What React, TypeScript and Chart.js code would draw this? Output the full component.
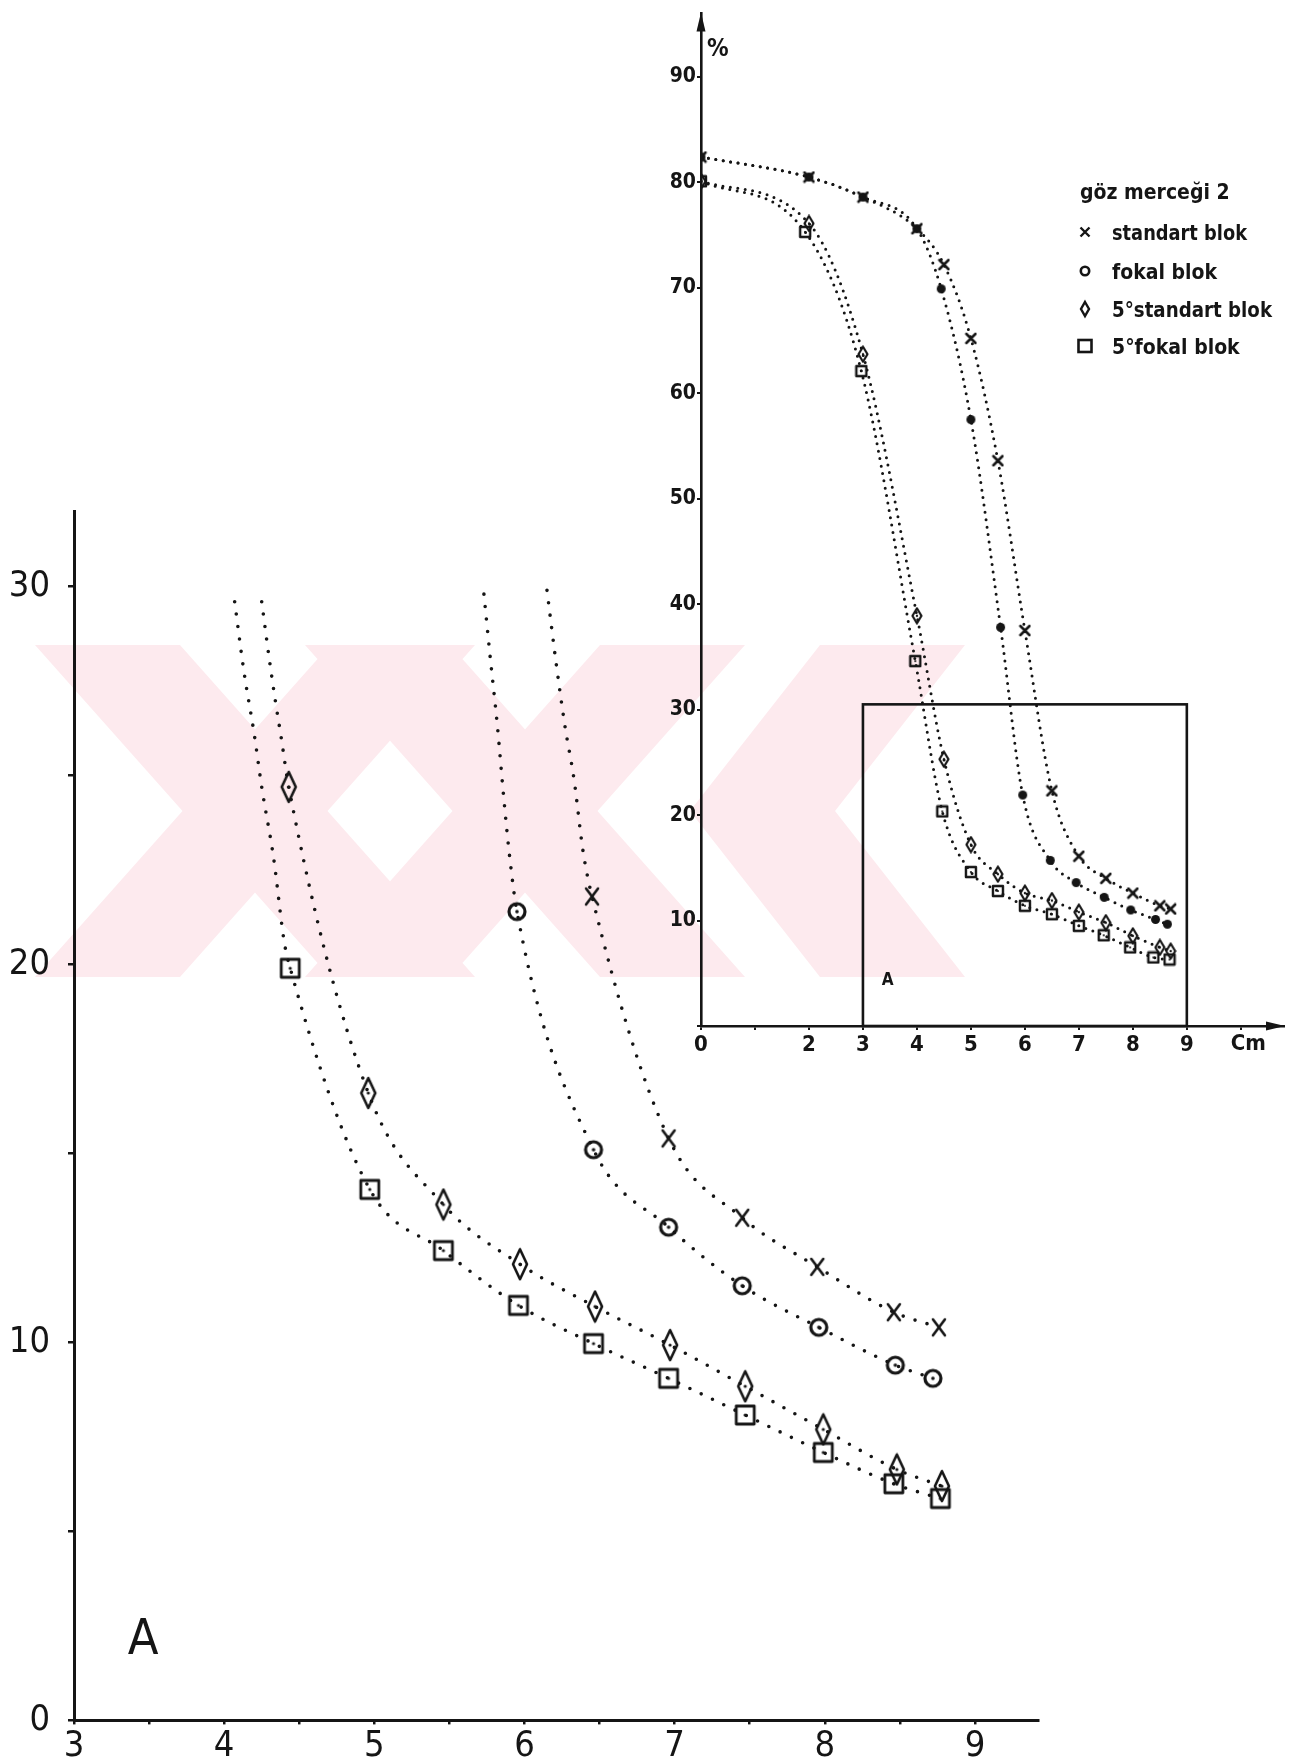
import React, { useEffect, useRef } from "react";
import { Chart, registerables } from "chart.js";

Chart.register(...registerables);

const INK = "#151515";
const FONT = "'DejaVu Sans Condensed', 'Liberation Sans Narrow', 'DejaVu Sans', sans-serif";
const WATERMARK_COLOR = "#fdeaee";

// ---------- main chart (detail "A") ----------
const MAIN_X_LABELS = [3, 4, 5, 6, 7, 8, 9];
const MAIN_Y_LABELS = [0, 10, 20, 30];
const MAIN_TAG = "A";
const MAIN_TAG_X = 3.46;
const MAIN_TAG_Y = 2.1;

// 1 = measured point with marker, 0 = point on the drawn curve only
const MAIN_STD_X = [6.15, 6.21, 6.27, 6.33, 6.39, 6.45, 6.96, 7.45, 7.95, 8.46, 8.76];
const MAIN_STD_Y = [29.9, 28.0, 26.3, 24.9, 23.0, 21.8, 15.4, 13.3, 12.0, 10.8, 10.4];
const MAIN_STD_MARK = [0, 0, 0, 0, 0, 1, 1, 1, 1, 1, 1];

const MAIN_FOK_X = [5.73, 5.77, 5.82, 5.86, 5.9, 5.95, 6.46, 6.96, 7.45, 7.96, 8.47, 8.72];
const MAIN_FOK_Y = [29.8, 28.2, 26.3, 24.5, 22.9, 21.4, 15.1, 13.05, 11.5, 10.4, 9.4, 9.05];
const MAIN_FOK_MARK = [0, 0, 0, 0, 0, 1, 1, 1, 1, 1, 1, 1];

const MAIN_S5_X = [4.25, 4.3, 4.34, 4.38, 4.43, 4.96, 5.46, 5.97, 6.47, 6.97, 7.47, 7.99, 8.48, 8.78];
const MAIN_S5_Y = [29.6, 28.1, 27.0, 26.0, 24.7, 16.6, 13.65, 12.07, 10.95, 9.93, 8.84, 7.7, 6.64, 6.2];
const MAIN_S5_MARK = [0, 0, 0, 0, 1, 1, 1, 1, 1, 1, 1, 1, 1, 1];

const MAIN_F5_X = [4.07, 4.13, 4.2, 4.25, 4.33, 4.4, 4.44, 4.97, 5.46, 5.96, 6.46, 6.96, 7.47, 7.99, 8.46, 8.77];
const MAIN_F5_Y = [29.6, 27.8, 26.1, 24.7, 22.8, 20.6, 19.9, 14.05, 12.43, 10.98, 9.97, 9.05, 8.08, 7.09, 6.26, 5.87];
const MAIN_F5_MARK = [0, 0, 0, 0, 0, 0, 1, 1, 1, 1, 1, 1, 1, 1, 1, 1];

// ---------- inset chart ----------
const INSET_X_LABELS = [0, 2, 3, 4, 5, 6, 7, 8, 9];
const INSET_Y_LABELS = [10, 20, 30, 40, 50, 60, 70, 80, 90];
const INSET_UNIT_Y = "%";
const INSET_UNIT_X = "Cm";
const INSET_BOX = { x0: 3, x1: 9, y0: 0, y1: 30.5 };
const INSET_TAG = "A";
const INSET_TAG_X = 3.46;
const INSET_TAG_Y = 4.3;

const INSET_STD_X = [0, 2, 3, 4, 4.5, 5, 5.5, 6, 6.5, 7, 7.5, 8, 8.5, 8.7];
const INSET_STD_Y = [82.4, 80.5, 78.6, 75.6, 72.2, 65.2, 53.6, 37.5, 22.3, 16.1, 14.0, 12.6, 11.4, 11.1];
const INSET_FOK_X = [0, 2, 3, 4, 4.45, 5, 5.55, 5.96, 6.47, 6.95, 7.47, 7.96, 8.42, 8.64];
const INSET_FOK_Y = [82.4, 80.5, 78.6, 75.6, 69.9, 57.5, 37.8, 21.9, 15.7, 13.6, 12.2, 11.0, 10.1, 9.65];
const INSET_S5_X = [0, 2, 3, 4, 4.5, 5, 5.5, 6, 6.5, 7, 7.5, 8, 8.5, 8.7];
const INSET_S5_Y = [80.1, 76.1, 63.7, 38.9, 25.3, 17.2, 14.4, 12.6, 11.9, 10.8, 9.8, 8.55, 7.45, 7.1];
const INSET_F5_X = [0, 1.93, 2.97, 3.97, 4.47, 5, 5.5, 6, 6.5, 7, 7.46, 7.95, 8.38, 8.68];
const INSET_F5_Y = [80.1, 75.3, 62.1, 34.6, 20.35, 14.6, 12.8, 11.4, 10.6, 9.5, 8.6, 7.45, 6.5, 6.3];

const LEGEND_TITLE = "göz merceği 2";
const SERIES_LABELS = ["standart blok", "fokal blok", "5°standart blok", "5°fokal blok"];

// watermark (thesis-centre logo) polygons, page pixels
const WATERMARK = [
  [[35, 645], [180, 645], [475, 977], [330, 977]],
  [[330, 645], [475, 645], [180, 977], [35, 977]],
  [[305, 645], [450, 645], [745, 977], [600, 977]],
  [[600, 645], [745, 645], [450, 977], [305, 977]],
  [[820, 645], [965, 645], [835, 811], [690, 811]],
  [[690, 811], [835, 811], [965, 977], [820, 977]],
];

function makeMarker(w: number, h: number, draw: (ctx: CanvasRenderingContext2D) => void) {
  const c = document.createElement("canvas");
  c.width = w;
  c.height = h;
  const ctx = c.getContext("2d")!;
  ctx.strokeStyle = INK;
  ctx.fillStyle = INK;
  ctx.lineCap = "round";
  ctx.lineJoin = "round";
  draw(ctx);
  return c;
}

function dot(ctx: CanvasRenderingContext2D, x: number, y: number, r: number) {
  ctx.beginPath();
  ctx.arc(x, y, r, 0, Math.PI * 2);
  ctx.fill();
}

function buildMarkers() {
  const mainX = makeMarker(20, 24, (c) => {
    c.lineWidth = 2.6;
    c.beginPath();
    c.moveTo(4, 4); c.lineTo(16, 20);
    c.moveTo(16, 4); c.lineTo(4, 20);
    c.stroke();
  });
  const mainCircle = makeMarker(24, 24, (c) => {
    c.lineWidth = 3.2;
    c.beginPath(); c.arc(12, 12, 8, 0, Math.PI * 2); c.stroke();
    dot(c, 12, 12, 1.8);
  });
  const mainDiamond = makeMarker(20, 34, (c) => {
    c.lineWidth = 2.6;
    c.beginPath();
    c.moveTo(10, 2); c.lineTo(17, 17); c.lineTo(10, 32); c.lineTo(3, 17); c.closePath();
    c.stroke();
    dot(c, 10, 17, 1.6);
  });
  const mainSquare = makeMarker(24, 24, (c) => {
    c.lineWidth = 2.8;
    c.strokeRect(3, 3, 18, 18);
    dot(c, 12, 12, 1.6);
  });
  const insX = makeMarker(13, 13, (c) => {
    c.lineWidth = 2.6;
    c.beginPath();
    c.moveTo(2, 2); c.lineTo(11, 11);
    c.moveTo(11, 2); c.lineTo(2, 11);
    c.stroke();
  });
  const insCircle = makeMarker(11, 11, (c) => dot(c, 5.5, 5.5, 4.5));
  const insDiamond = makeMarker(12, 18, (c) => {
    c.lineWidth = 2.2;
    c.beginPath();
    c.moveTo(6, 1.5); c.lineTo(10.5, 9); c.lineTo(6, 16.5); c.lineTo(1.5, 9); c.closePath();
    c.stroke();
    dot(c, 6, 9, 1.2);
  });
  const insSquare = makeMarker(14, 14, (c) => {
    c.lineWidth = 2.4;
    c.strokeRect(2, 2, 10, 10);
    dot(c, 7, 7, 1.1);
  });
  return { mainX, mainCircle, mainDiamond, mainSquare, insX, insCircle, insDiamond, insSquare };
}

function series(label: string, xs: number[], ys: number[], marks: number[] | null, marker: any, dash: number[], width: number) {
  return {
    label,
    data: xs.map((x, i) => ({ x, y: ys[i] })),
    borderColor: INK,
    backgroundColor: INK,
    borderWidth: width,
    borderDash: dash,
    borderCapStyle: "round",
    cubicInterpolationMode: "monotone",
    fill: false,
    pointStyle: marker,
    pointRadius: marks ? marks.map((m) => (m ? 6 : 0)) : 6,
    pointHoverRadius: 0,
    pointHitRadius: 0,
  };
}

export default function App() {
  const mainRef = useRef<HTMLCanvasElement>(null);
  const insetRef = useRef<HTMLCanvasElement>(null);

  useEffect(() => {
    const m = buildMarkers();
    const MAIN_DASH = [0, 12.5];
    const INS_DASH = [0, 7.5];

    const mainDecor = {
      id: "mainDecor",
      beforeDraw(chart: any) {
        const ctx = chart.ctx;
        ctx.save();
        ctx.fillStyle = WATERMARK_COLOR;
        for (const poly of WATERMARK) {
          ctx.beginPath();
          poly.forEach(([px, py], i) => (i ? ctx.lineTo(px, py) : ctx.moveTo(px, py)));
          ctx.closePath();
          ctx.fill();
        }
        ctx.restore();
      },
      afterDatasetsDraw(chart: any) {
        const { ctx, scales } = chart;
        ctx.save();
        ctx.fillStyle = INK;
        ctx.font = `50px ${FONT}`;
        ctx.textAlign = "center";
        ctx.textBaseline = "middle";
        ctx.fillText(MAIN_TAG, scales.x.getPixelForValue(MAIN_TAG_X), scales.y.getPixelForValue(MAIN_TAG_Y));
        ctx.restore();
      },
    };

    const mainChart = new Chart(mainRef.current!, {
      type: "line",
      data: {
        datasets: [
          series(SERIES_LABELS[0], MAIN_STD_X, MAIN_STD_Y, MAIN_STD_MARK, m.mainX, MAIN_DASH, 3.6),
          series(SERIES_LABELS[1], MAIN_FOK_X, MAIN_FOK_Y, MAIN_FOK_MARK, m.mainCircle, MAIN_DASH, 3.6),
          series(SERIES_LABELS[2], MAIN_S5_X, MAIN_S5_Y, MAIN_S5_MARK, m.mainDiamond, MAIN_DASH, 3.6),
          series(SERIES_LABELS[3], MAIN_F5_X, MAIN_F5_Y, MAIN_F5_MARK, m.mainSquare, MAIN_DASH, 3.6),
        ] as any,
      },
      options: {
        responsive: false,
        animation: false,
        devicePixelRatio: 1,
        events: [],
        layout: { padding: { left: 0, top: 511, right: 270, bottom: 0 } },
        plugins: { legend: { display: false }, tooltip: { enabled: false } },
        scales: {
          x: {
            type: "linear",
            min: 3,
            max: 9.42,
            position: "bottom",
            border: { display: true, color: INK, width: 3 },
            grid: { drawOnChartArea: false, drawTicks: true, tickLength: 4, color: INK, lineWidth: 2.5 },
            ticks: {
              stepSize: 0.5,
              autoSkip: false,
              maxRotation: 0,
              includeBounds: false,
              padding: 1,
              color: INK,
              font: { family: FONT, size: 36 },
              callback: (v: any) => (MAIN_X_LABELS.includes(Number(v)) ? String(v) : ""),
            },
            afterFit: (s: any) => { s.height = 39; },
          },
          y: {
            type: "linear",
            min: 0,
            max: 32,
            border: { display: true, color: INK, width: 3 },
            grid: { drawOnChartArea: false, drawTicks: true, tickLength: 6, color: INK, lineWidth: 2.5 },
            ticks: {
              stepSize: 5,
              autoSkip: false,
              includeBounds: false,
              padding: 18,
              color: INK,
              font: { family: FONT, size: 36 },
              callback: (v: any) => (MAIN_Y_LABELS.includes(Number(v)) ? String(v) : ""),
            },
            afterFit: (s: any) => { s.width = 74; },
          },
        },
      } as any,
      plugins: [mainDecor],
    });

    const legendMarkers = [
      (c: CanvasRenderingContext2D, x: number, y: number) => {
        c.lineWidth = 2.4;
        c.beginPath();
        c.moveTo(x - 4.5, y - 4.5); c.lineTo(x + 4.5, y + 4.5);
        c.moveTo(x + 4.5, y - 4.5); c.lineTo(x - 4.5, y + 4.5);
        c.stroke();
      },
      (c: CanvasRenderingContext2D, x: number, y: number) => {
        c.lineWidth = 2.6;
        c.beginPath(); c.arc(x, y, 4.2, 0, Math.PI * 2); c.stroke();
      },
      (c: CanvasRenderingContext2D, x: number, y: number) => {
        c.lineWidth = 2.4;
        c.beginPath();
        c.moveTo(x, y - 7); c.lineTo(x + 4, y); c.lineTo(x, y + 7); c.lineTo(x - 4, y); c.closePath();
        c.stroke();
      },
      (c: CanvasRenderingContext2D, x: number, y: number) => {
        c.lineWidth = 2.6;
        c.strokeRect(x - 6.5, y - 6, 13, 12);
      },
    ];

    const insetDecor = {
      id: "insetDecor",
      beforeDatasetsDraw(chart: any) {
        const { ctx, scales } = chart;
        const { x, y } = scales;
        ctx.save();
        ctx.strokeStyle = INK;
        ctx.lineWidth = 2.6;
        const l = x.getPixelForValue(INSET_BOX.x0);
        const r = x.getPixelForValue(INSET_BOX.x1);
        const t = y.getPixelForValue(INSET_BOX.y1);
        const b = y.getPixelForValue(INSET_BOX.y0);
        ctx.strokeRect(l, t, r - l, b - t);
        ctx.fillStyle = INK;
        ctx.font = `bold 17px ${FONT}`;
        ctx.textAlign = "center";
        ctx.textBaseline = "middle";
        ctx.fillText(INSET_TAG, x.getPixelForValue(INSET_TAG_X), y.getPixelForValue(INSET_TAG_Y));
        ctx.restore();
      },
      afterDraw(chart: any) {
        const { ctx, chartArea, scales } = chart;
        const { x } = scales;
        ctx.save();
        ctx.fillStyle = INK;
        ctx.strokeStyle = INK;
        // arrow heads
        const ax = chartArea.left;
        ctx.beginPath();
        ctx.moveTo(ax, chartArea.top - 1);
        ctx.lineTo(ax - 4.5, chartArea.top + 18);
        ctx.lineTo(ax + 4.5, chartArea.top + 18);
        ctx.closePath();
        ctx.fill();
        const ay = chartArea.bottom;
        ctx.beginPath();
        ctx.moveTo(chartArea.right + 1, ay);
        ctx.lineTo(chartArea.right - 18, ay - 4.5);
        ctx.lineTo(chartArea.right - 18, ay + 4.5);
        ctx.closePath();
        ctx.fill();
        // unit labels
        ctx.font = `bold 24px ${FONT}`;
        ctx.textAlign = "left";
        ctx.textBaseline = "middle";
        ctx.fillText(INSET_UNIT_Y, chartArea.left + 6, scales.y.getPixelForValue(92.6));
        ctx.font = `bold 22px ${FONT}`;
        ctx.textAlign = "center";
        ctx.textBaseline = "top";
        ctx.fillText(INSET_UNIT_X, x.getPixelForValue(10.14), chartArea.bottom + 7);
        // legend
        const lx = 480;
        ctx.textAlign = "left";
        ctx.textBaseline = "alphabetic";
        ctx.font = `bold 21px ${FONT}`;
        ctx.fillText(LEGEND_TITLE, lx, 199, 150);
        const baselines = [240, 279, 317, 354];
        const widths = [135, 106, 160, 136];
        chart.data.datasets.forEach((ds: any, i: number) => {
          legendMarkers[i](ctx, lx + 5, baselines[i] - 8);
          ctx.fillText(ds.label, lx + 32, baselines[i], widths[i]);
        });
        ctx.restore();
      },
    };

    const insetChart = new Chart(insetRef.current!, {
      type: "line",
      data: {
        datasets: [
          series(SERIES_LABELS[0], INSET_STD_X, INSET_STD_Y, null, m.insX, INS_DASH, 3),
          series(SERIES_LABELS[1], INSET_FOK_X, INSET_FOK_Y, null, m.insCircle, INS_DASH, 3),
          series(SERIES_LABELS[2], INSET_S5_X, INSET_S5_Y, null, m.insDiamond, INS_DASH, 3),
          series(SERIES_LABELS[3], INSET_F5_X, INSET_F5_Y, null, m.insSquare, INS_DASH, 3),
        ] as any,
      },
      options: {
        responsive: false,
        animation: false,
        devicePixelRatio: 1,
        events: [],
        layout: { padding: { left: 0, top: 6.5, right: 24, bottom: 0 } },
        plugins: { legend: { display: false }, tooltip: { enabled: false } },
        scales: {
          x: {
            type: "linear",
            min: 0,
            max: 10.8,
            position: "bottom",
            border: { display: true, color: INK, width: 2.6 },
            grid: { drawOnChartArea: false, drawTicks: true, tickLength: 4, color: INK, lineWidth: 2 },
            ticks: {
              stepSize: 1,
              autoSkip: false,
              maxRotation: 0,
              includeBounds: false,
              padding: 2,
              color: INK,
              font: { family: FONT, size: 22, weight: "bold" },
              callback: (v: any) => (INSET_X_LABELS.includes(Number(v)) ? String(v) : ""),
            },
            afterFit: (s: any) => { s.height = 54; },
          },
          y: {
            type: "linear",
            min: 0,
            max: 96,
            border: { display: true, color: INK, width: 2.6 },
            grid: { drawOnChartArea: false, drawTicks: true, tickLength: 4, color: INK, lineWidth: 2 },
            ticks: {
              stepSize: 10,
              autoSkip: false,
              includeBounds: false,
              padding: 1,
              color: INK,
              font: { family: FONT, size: 21, weight: "bold" },
              callback: (v: any) => (INSET_Y_LABELS.includes(Number(v)) ? String(v) : ""),
            },
            afterFit: (s: any) => { s.width = 101; },
          },
        },
      } as any,
      plugins: [insetDecor],
    });

    return () => {
      mainChart.destroy();
      insetChart.destroy();
    };
  }, []);

  return (
    <div style={{ position: "absolute", left: 0, top: 0, width: 1308, height: 1760, background: "#fff", overflow: "hidden" }}>
      <canvas ref={mainRef} width={1308} height={1760} style={{ position: "absolute", left: 0, top: 0, width: 1308, height: 1760 }} />
      <canvas ref={insetRef} width={708} height={1080} style={{ position: "absolute", left: 600, top: 0, width: 708, height: 1080 }} />
    </div>
  );
}
